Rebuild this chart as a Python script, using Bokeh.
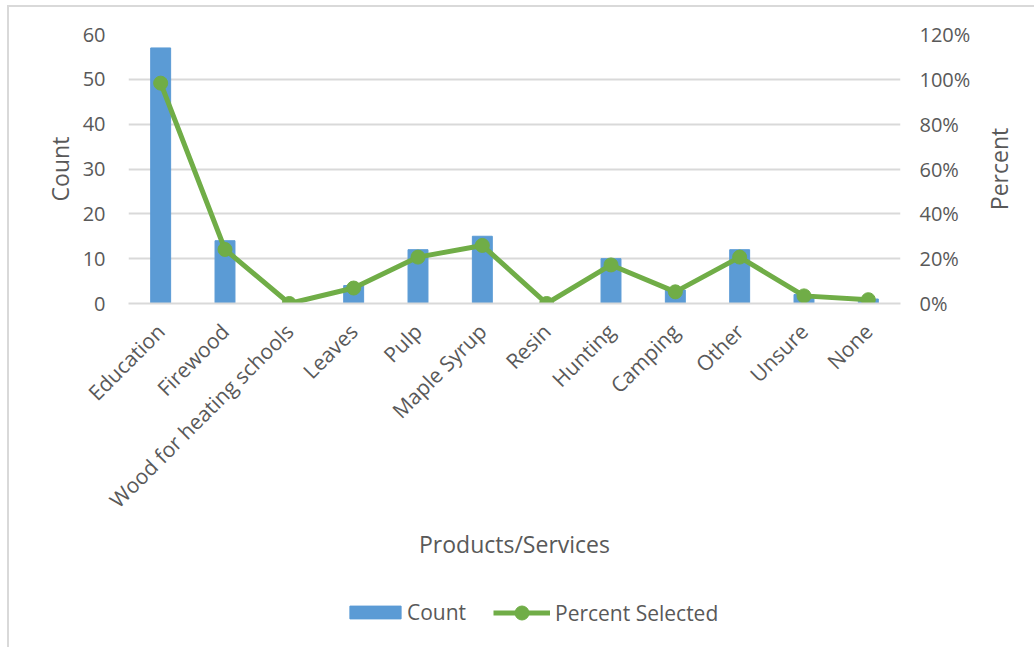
import math
from bokeh.plotting import figure
from bokeh.layouts import column, row
from bokeh.models import (Range1d, LinearAxis, FixedTicker, CustomJSTickFormatter,
                          Legend, LegendItem, ColumnDataSource)
from bokeh.embed import file_html
from bokeh.resources import INLINE

categories = ["Education", "Firewood", "Wood for heating schools", "Leaves", "Pulp",
              "Maple Syrup", "Resin", "Hunting", "Camping", "Other", "Unsure", "None"]
counts = [57, 14, 0, 4, 12, 15, 0, 10, 3, 12, 2, 1]
percents = [98.3, 24.1, 0.0, 6.9, 20.7, 25.9, 0.0, 17.2, 5.2, 20.7, 3.4, 1.7]
count_ticks = [0, 10, 20, 30, 40, 50, 60]
pct_ticks = [0, 20, 40, 60, 80, 100, 120]

BLUE = "#5B9BD5"
GREEN = "#70AD47"
GRID = "#D9D9D9"
TXT = "#595959"
FONT = "Open Sans"
TICK_SIZE = "20px"
TITLE_SIZE = "23px"

src = ColumnDataSource(dict(cat=categories, count=counts, pct=percents))

W = 1025
W_MAIN = 970
W_SIDE = W - W_MAIN
H_MAIN = 578
H_LEG = 62
BL, BT, BB = 119, 27, 282
BR = W_MAIN - BL - 772

p = figure(width=W_MAIN, height=H_MAIN, x_range=categories, y_range=Range1d(0, 60),
           output_backend="svg", toolbar_location=None,
           min_border_left=BL, min_border_right=BR, min_border_top=BT,
           min_border_bottom=BB)
p.outline_line_color = None

p.extra_y_ranges = {"pct": Range1d(0, 120)}

bars = p.vbar(x="cat", top="count", width=0.31, source=src, color=BLUE)
line = p.line(x="cat", y="pct", source=src, y_range_name="pct", color=GREEN, line_width=5)
dots = p.scatter(x="cat", y="pct", source=src, y_range_name="pct", color=GREEN, size=14)

# left axis
ya = p.yaxis[0]
ya.ticker = FixedTicker(ticks=count_ticks)
ya.axis_line_color = None
ya.major_tick_line_color = None
ya.minor_tick_line_color = None
ya.major_label_text_font = FONT
ya.major_label_text_font_size = TICK_SIZE
ya.major_label_text_color = TXT
ya.major_label_standoff = 17
ya.axis_label = "Count"
ya.axis_label_text_font = FONT
ya.axis_label_text_font_size = TITLE_SIZE
ya.axis_label_text_font_style = "normal"
ya.axis_label_text_color = TXT
ya.axis_label_standoff = 4

# right axis (ticks)
ra = LinearAxis(y_range_name="pct", ticker=FixedTicker(ticks=pct_ticks))
ra.formatter = CustomJSTickFormatter(code="return tick + '%';")
ra.axis_line_color = None
ra.major_tick_line_color = None
ra.minor_tick_line_color = None
ra.major_label_text_font = FONT
ra.major_label_text_font_size = TICK_SIZE
ra.major_label_text_color = TXT
ra.major_label_standoff = 13
p.add_layout(ra, "right")

# x axis
xa = p.xaxis[0]
xa.axis_line_color = GRID
xa.axis_line_width = 2
xa.major_tick_line_color = None
xa.minor_tick_line_color = None
xa.major_label_orientation = math.pi / 4
xa.major_label_text_font = FONT
xa.major_label_text_font_size = "21px"
xa.major_label_text_color = TXT
xa.major_label_standoff = 18
xa.axis_label = "Products/Services"
xa.axis_label_text_font = FONT
xa.axis_label_text_font_size = TITLE_SIZE
xa.axis_label_text_font_style = "normal"
xa.axis_label_text_color = TXT
xa.axis_label_standoff = 2

p.xgrid.grid_line_color = None
p.ygrid.grid_line_color = GRID
p.ygrid.grid_line_width = 2
p.ygrid.ticker = FixedTicker(ticks=count_ticks)

# narrow side panel carrying the right-hand title "Percent" (reads bottom to top)
side = figure(width=W_SIDE, height=H_MAIN, x_range=Range1d(0, 1), y_range=Range1d(0, 120),
              output_backend="svg", toolbar_location=None,
              min_border_left=W_SIDE - 4, min_border_right=0,
              min_border_top=BT, min_border_bottom=BB)
side.outline_line_color = None
side.grid.visible = False
side.xaxis.visible = False
sa = side.yaxis[0]
sa.ticker = FixedTicker(ticks=[])
sa.axis_line_color = None
sa.major_tick_line_color = None
sa.minor_tick_line_color = None
sa.major_label_text_font_size = "0px"
sa.major_label_standoff = 0
sa.axis_label = "Percent"
sa.axis_label_text_font = FONT
sa.axis_label_text_font_size = TITLE_SIZE
sa.axis_label_text_font_style = "normal"
sa.axis_label_text_color = TXT
sa.axis_label_standoff = 20

# legend panel below the chart (its series lie outside its visible y range)
lg = figure(width=W, height=H_LEG, x_range=categories, y_range=Range1d(1000, 1001),
            output_backend="svg", toolbar_location=None,
            min_border_left=BL, min_border_right=W - BL - 772,
            min_border_top=0, min_border_bottom=0)
lg.axis.visible = False
lg.grid.visible = False
lg.outline_line_color = None
lb = lg.vbar(x="cat", top="count", width=0.31, source=src, color=BLUE)
ll = lg.line(x="cat", y="pct", source=src, color=GREEN, line_width=5)
ld = lg.scatter(x="cat", y="pct", source=src, color=GREEN, size=14)

common = dict(orientation="horizontal", label_text_font=FONT, label_text_font_size="21px",
              label_text_color=TXT, border_line_color=None, background_fill_alpha=0,
              margin=0, padding=0)
leg1 = Legend(items=[LegendItem(label="Count", renderers=[lb])],
              location=(215, 21), glyph_width=64, glyph_height=16, label_standoff=0,
              **common)
leg2 = Legend(items=[LegendItem(label="Percent Selected", renderers=[ll, ld])],
              location=(365, 17), glyph_width=57, glyph_height=35, label_standoff=5,
              **common)
lg.add_layout(leg1, "center")
lg.add_layout(leg2, "center")

layout = column(row(p, side, spacing=0), lg, spacing=0)
layout.styles = {"margin-left": "7px", "margin-top": "5px",
                 "border-left": "2px solid #D9D9D9", "border-top": "2px solid #D9D9D9"}

open("out.html", "w").write(file_html(layout, INLINE))
